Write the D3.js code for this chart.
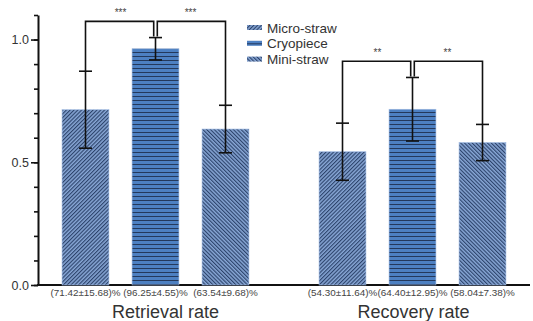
<!DOCTYPE html>
<html>
<head>
<meta charset="utf-8">
<script src="https://cdn.jsdelivr.net/npm/d3@7"></script>
<style>
  body { margin: 0; background: #fff; }
  text { font-family: "Liberation Sans", Arial, Helvetica, sans-serif; }
</style>
</head>
<body>
<div id="chart"></div>
<script>
// groups on the x axis
var groups = ["Retrieval rate", "Recovery rate"];
// the three methods
var series = ["Micro-straw", "Cryopiece", "Mini-straw"];
// bar means (as drawn) and SD, one array per group
var retrievalMean = [0.7142, 0.9625, 0.6354];
var retrievalSD   = [0.1568, 0.0455, 0.0968];
var recoveryMean  = [0.5430, 0.7160, 0.5804];
var recoverySD    = [0.1164, 0.1295, 0.0738];
// texts under the bars
var retrievalLabels = ["(71.42±15.68)%", "(96.25±4.55)%", "(63.54±9.68)%"];
var recoveryLabels  = ["(54.30±11.64)%", "(64.40±12.95)%", "(58.04±7.38)%"];
// significance marks (cryopiece vs the others)
var retrievalStars = ["***", "***"];
var recoveryStars  = ["**", "**"];
// y ticks
var majorTicks = [0, 0.5, 1.0];
var minorTicks = [0, 0.1, 0.2, 0.3, 0.4, 0.5, 0.6, 0.7, 0.8, 0.9, 1.0, 1.1];

var data = [
  {group: groups[0], mean: retrievalMean, sd: retrievalSD, labels: retrievalLabels, stars: retrievalStars},
  {group: groups[1], mean: recoveryMean, sd: recoverySD, labels: recoveryLabels, stars: recoveryStars}
];

var width = 533, height = 321;
var x0Left = 38, x0Right = 530, yBase = 285, yTop = 15;

var svg = d3.select("#chart")
  .append("svg")
  .attr("width", width)
  .attr("height", height);

// patterns
var defs = svg.append("defs");
function stripe(id, angle, size, base, line, lw) {
  var p = defs.append("pattern")
    .attr("id", id)
    .attr("patternUnits", "userSpaceOnUse")
    .attr("width", size).attr("height", size)
    .attr("patternTransform", "rotate(" + angle + ")");
  p.append("rect").attr("width", size).attr("height", size).attr("fill", base);
  p.append("line")
    .attr("x1", 0.5).attr("y1", 0).attr("x2", 0.5).attr("y2", size)
    .attr("stroke", line).attr("stroke-width", lw);
}
stripe("p-micro", 45, 2.7, "#86a5d4", "#2c436b", 1.25);
stripe("p-cryo", 90, 4, "#4d80c2", "#24395c", 1);
stripe("p-mini", -45, 2.7, "#86a5d4", "#2c436b", 1.25);
var fills = {"Micro-straw": "url(#p-micro)", "Cryopiece": "url(#p-cryo)", "Mini-straw": "url(#p-mini)"};

// scales
var y = d3.scaleLinear().domain([0, 1.1]).range([yBase, yTop]);

var x0 = d3.scaleBand().domain(groups).range([27, 541]);
var x1 = d3.scaleBand().domain(series).range([-105, 105])
  .paddingInner(0.33).paddingOuter(0.165);
function cx(g, s) { return x0(g) + x0.bandwidth() / 2 + x1(s) + x1.bandwidth() / 2; }

// y axis
var minor = svg.append("g")
  .attr("transform", "translate(" + x0Left + ",0)")
  .call(d3.axisLeft(y).tickValues(minorTicks).tickSize(4).tickFormat(""));
minor.select(".domain").remove();
minor.selectAll("line").attr("stroke", "#111").attr("stroke-width", 1.6);

var major = svg.append("g")
  .attr("transform", "translate(" + x0Left + ",0)")
  .call(d3.axisLeft(y).tickValues(majorTicks).tickSize(7).tickSizeOuter(0).tickPadding(2)
    .tickFormat(d3.format(".1f")));
major.select(".domain").attr("stroke", "#111").attr("stroke-width", 2);
major.selectAll("line").attr("stroke", "#111").attr("stroke-width", 1.6);
major.selectAll("text").attr("font-size", 12.5).attr("fill", "#333")
  .attr("font-family", "Liberation Sans, Arial, sans-serif");

// x baseline
svg.append("line")
  .attr("x1", x0Left - 1).attr("x2", x0Right)
  .attr("y1", y(0)).attr("y2", y(0))
  .attr("stroke", "#111").attr("stroke-width", 2);

// bars
var gGroups = svg.selectAll(".grp").data(data).enter().append("g").attr("class", "grp");

gGroups.selectAll("rect")
  .data(function(d) { return series.map(function(s, i) { return {g: d.group, s: s, v: d.mean[i]}; }); })
  .enter().append("rect")
  .attr("x", function(d) { return cx(d.g, d.s) - x1.bandwidth() / 2; })
  .attr("y", function(d) { return y(d.v); })
  .attr("width", x1.bandwidth())
  .attr("height", function(d) { return y(0) - y(d.v); })
  .attr("fill", function(d) { return fills[d.s]; })
  .attr("stroke", "#a3bde3").attr("stroke-width", 0.6);

// error bars
var errs = gGroups.selectAll(".err")
  .data(function(d) { return series.map(function(s, i) { return {g: d.group, s: s, v: d.mean[i], e: d.sd[i]}; }); })
  .enter().append("g").attr("class", "err");
errs.append("line")
  .attr("x1", function(d) { return cx(d.g, d.s); })
  .attr("x2", function(d) { return cx(d.g, d.s); })
  .attr("y1", function(d) { return y(d.v - d.e); })
  .attr("y2", function(d) { return y(d.v + d.e); });
[-1, 1].forEach(function(sign) {
  errs.append("line")
    .attr("x1", function(d) { return cx(d.g, d.s) - 6.5; })
    .attr("x2", function(d) { return cx(d.g, d.s) + 6.5; })
    .attr("y1", function(d) { return y(d.v + sign * d.e); })
    .attr("y2", function(d) { return y(d.v + sign * d.e); });
});
errs.selectAll("line").attr("stroke", "#111").attr("stroke-width", 1.6);

// significance brackets
gGroups.each(function(d) {
  var g = d3.select(this);
  var tops = d.mean.map(function(m, i) { return m + d.sd[i]; });
  var level = d3.max(tops) + 0.066;
  var mid = cx(d.group, series[1]);
  [[0, -1.8], [2, 1.8]].forEach(function(pair, k) {
    var side = pair[0], off = pair[1];
    var xs = cx(d.group, series[side]);
    g.append("path")
      .attr("d", d3.line()([
        [xs, y(tops[side])],
        [xs, y(level)],
        [mid + off, y(level)],
        [mid + off, y(tops[1]) - 1]
      ]))
      .attr("fill", "none").attr("stroke", "#111").attr("stroke-width", 1.6);
    g.append("text")
      .attr("x", (xs + mid) / 2)
      .attr("y", y(level) - 5)
      .attr("text-anchor", "middle")
      .attr("font-size", 10).attr("fill", "#444")
      .text(d.stars[k]);
  });
});

// labels under bars
gGroups.selectAll(".val")
  .data(function(d) { return series.map(function(s, i) { return {g: d.group, s: s, t: d.labels[i]}; }); })
  .enter().append("text")
  .attr("class", "val")
  .attr("x", function(d) { return cx(d.g, d.s); })
  .attr("y", yBase + 10.5)
  .attr("text-anchor", "middle")
  .attr("font-size", 9.9).attr("fill", "#444")
  .text(function(d) { return d.t; });

// group names
svg.selectAll(".gname").data(groups).enter().append("text")
  .attr("class", "gname")
  .attr("x", function(d, i) { return x0(d) + x0.bandwidth() / 2 + (i === 0 ? 10 : 1); })
  .attr("y", 318)
  .attr("text-anchor", "middle")
  .attr("font-size", 18).attr("fill", "#333")
  .text(function(d) { return d; });

// legend
var legend = svg.append("g").attr("transform", "translate(247,27.5)");
var li = legend.selectAll("g").data(series).enter().append("g")
  .attr("transform", function(d, i) { return "translate(0," + (i * 15.8) + ")"; });
li.append("rect")
  .attr("x", 0).attr("y", -2.5).attr("width", 15).attr("height", 5)
  .attr("fill", function(d) { return fills[d]; });
li.append("text")
  .attr("x", 20).attr("y", 5)
  .attr("font-size", 13.5).attr("fill", "#333")
  .text(function(d) { return d; });
</script>
</body>
</html>
